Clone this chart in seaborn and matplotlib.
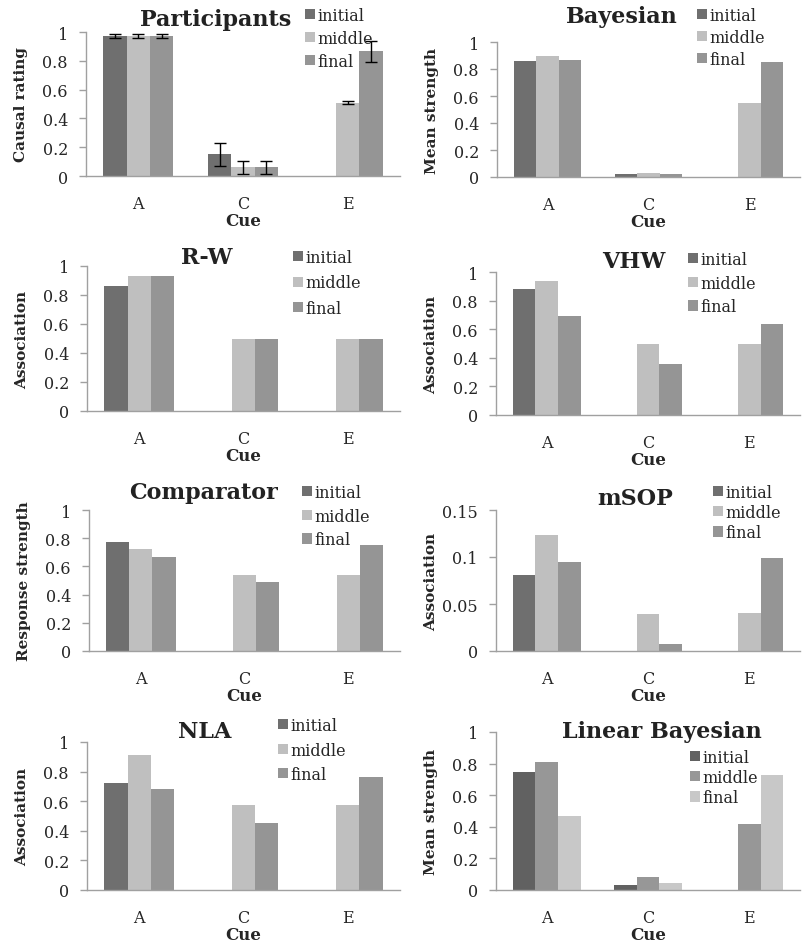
import numpy as np
import pandas as pd
import matplotlib
matplotlib.use('Agg')
import matplotlib.pyplot as plt
import seaborn as sns

sns.set_style('white')
plt.rcParams['font.family'] = ['DejaVu Serif']

# data: rows = phase (initial, middle, final), cols = cue (A, C, E)
cues = ['A', 'C', 'E']
phases = ['initial', 'middle', 'final']

participants = [[0.97, 0.15, 0.0], [0.97, 0.06, 0.51], [0.97, 0.06, 0.865]]
participants_err = [[0.015, 0.08, 0.0], [0.015, 0.045, 0.01], [0.015, 0.045, 0.07]]
bayesian = [[0.86, 0.02, 0.0], [0.90, 0.03, 0.55], [0.87, 0.02, 0.85]]
rw = [[0.86, 0.0, 0.0], [0.93, 0.50, 0.50], [0.93, 0.50, 0.50]]
vhw = [[0.88, 0.0, 0.0], [0.94, 0.50, 0.50], [0.69, 0.36, 0.635]]
comparator = [[0.77, 0.0, 0.0], [0.72, 0.54, 0.54], [0.665, 0.49, 0.75]]
msop = [[0.081, 0.0, 0.0], [0.123, 0.039, 0.040], [0.095, 0.007, 0.099]]
nla = [[0.725, 0.0, 0.0], [0.91, 0.575, 0.575], [0.685, 0.455, 0.765]]
linear_bayes = [[0.75, 0.03, 0.0], [0.81, 0.08, 0.42], [0.47, 0.045, 0.73]]

pal_std = {'initial': '#6f6f6f', 'middle': '#bfbfbf', 'final': '#959595'}
pal_lin = {'initial': '#616161', 'middle': '#979797', 'final': '#c8c8c8'}

W, H = 805, 945
fig = plt.figure(figsize=(W / 100, H / 100), dpi=100)

def fx(x):
    return x / W

def fy(y):
    return 1 - y / H

# (title, values, ylabel, ymax, ystep, box(x0,x1,ytop,ybot), title xy, legend xy, spacing, palette)
panels = [
    ('Participants', participants, 'Causal rating', 1, 0.2, (86, 400, 33, 177), (216, 20), (305, 8), 0.375, pal_std),
    ('Bayesian', bayesian, 'Mean strength', 1, 0.2, (497, 800, 43, 178), (622, 17), (697, 8), 0.31, pal_std),
    ('R-W', rw, 'Association', 1, 0.2, (87, 400, 267, 412), (207, 258), (293, 250), 0.53, pal_std),
    ('VHW', vhw, 'Association', 1, 0.2, (496, 800, 273, 416), (634, 262), (688, 252), 0.41, pal_std),
    ('Comparator', comparator, 'Response strength', 1, 0.2, (89, 400, 511, 652), (203, 493), (302, 485), 0.41, pal_std),
    ('mSOP', msop, 'Association', 0.15, 0.05, (496, 800, 511, 652), (635, 499), (713, 485), 0.19, pal_std),
    ('NLA', nla, 'Association', 1, 0.2, (87, 400, 743, 891), (205, 732), (278, 718), 0.47, pal_std),
    ('Linear Bayesian', linear_bayes, 'Mean strength', 1, 0.2, (496, 800, 733, 891), (662, 732), (690, 750), 0.19, pal_lin),
]

spine_col = '#a0a0a0'

for title, vals, ylab, ymax, ystep, box, tpos, lpos, lsp, pal in panels:
    x0, x1, yt, yb = box
    ax = fig.add_axes([fx(x0), fy(yb), (x1 - x0) / W, (yb - yt) / H])
    df = pd.DataFrame([(c, p, vals[i][j]) for i, p in enumerate(phases) for j, c in enumerate(cues)],
                      columns=['cue', 'phase', 'value'])
    sns.barplot(data=df, x='cue', y='value', hue='phase', order=cues, hue_order=phases,
                palette=pal, width=0.67, saturation=1, errorbar=None, linewidth=0, ax=ax)

    if title == 'Participants':
        bar_groups = list(ax.containers)
        for i, cont in enumerate(bar_groups):
            for j, bar in enumerate(cont):
                e = participants_err[i][j]
                if e > 0:
                    ax.errorbar(bar.get_x() + bar.get_width() / 2, bar.get_height(), yerr=e,
                                color='black', capsize=4, elinewidth=1, capthick=1)

    ax.set_xlim(-0.5, 2.5)
    ax.set_ylim(0, ymax)
    ticks = np.round(np.arange(0, ymax + ystep / 2, ystep), 3)
    ax.set_yticks(ticks)
    ax.set_yticklabels([f'{t:g}' for t in ticks], fontsize=11.5)
    ax.set_xticks(range(3))
    ax.set_xticklabels(cues, fontsize=11.5)
    ax.set_xticks([-0.5, 0.5, 1.5, 2.5], minor=True)
    ax.tick_params(axis='x', which='major', length=0, pad=14)
    ax.tick_params(axis='x', which='minor', length=5, width=1, color=spine_col, direction='out')
    ax.tick_params(axis='y', length=5, width=1, color=spine_col, direction='out', pad=8, left=True)

    for s in ['top', 'right']:
        ax.spines[s].set_visible(False)
    for s in ['left', 'bottom']:
        ax.spines[s].set_color(spine_col)
        ax.spines[s].set_linewidth(1)

    ax.set_xlabel('Cue', fontsize=12, fontweight='bold', labelpad=0)
    ax.set_ylabel(ylab, fontsize=11, fontweight='bold')
    ax.yaxis.set_label_coords(-58 / (x1 - x0), 0.5)

    fig.text(fx(tpos[0]), fy(tpos[1]), title, fontsize=16, fontweight='bold',
             ha='center', va='center', color='#222222')

    handles, labels = ax.get_legend_handles_labels()
    ax.legend(handles, labels, loc='upper left', bbox_to_anchor=(fx(lpos[0]), fy(lpos[1])),
              bbox_transform=fig.transFigure, frameon=False, fontsize=11.5,
              handlelength=0.6, handleheight=0.6, handletextpad=0.2,
              labelspacing=lsp, borderpad=0, borderaxespad=0)

fig.savefig('out.png', dpi=100)
